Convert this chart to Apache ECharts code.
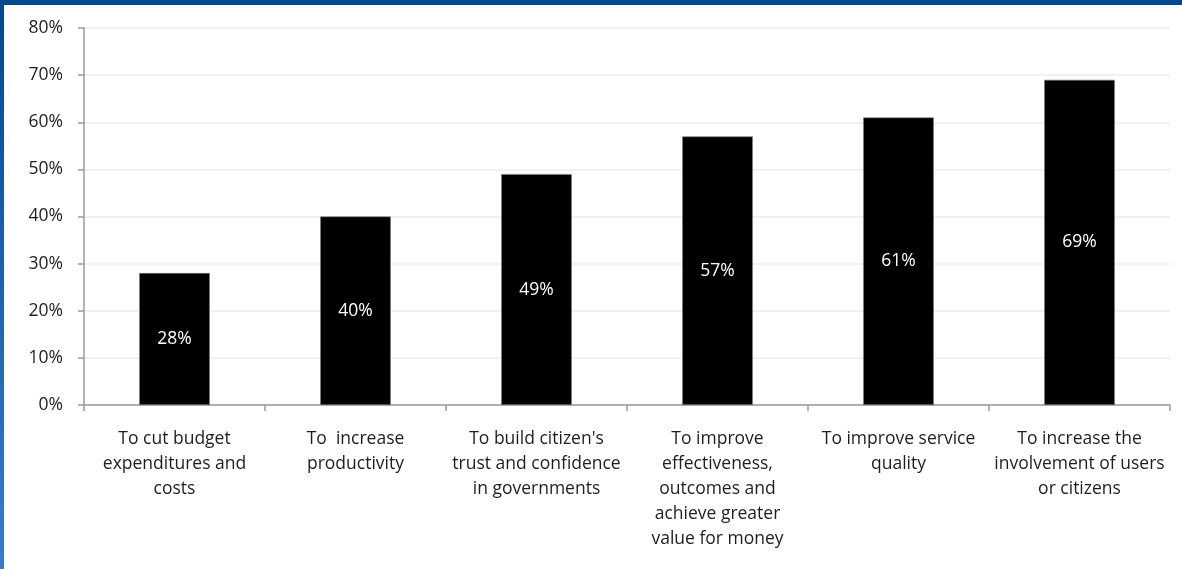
<!DOCTYPE html>
<html>
<head>
<meta charset="utf-8">
<script src="https://cdn.jsdelivr.net/npm/echarts@6/dist/echarts.min.js"></script>
<style>
  html, body { margin: 0; padding: 0; background: #ffffff; }
  #wrap { position: relative; width: 1182px; height: 569px; overflow: hidden; }
  #chart { position: absolute; left: 0; top: 0; width: 1182px; height: 569px; }
  #topbar { position: absolute; left: 0; top: 0; width: 1182px; height: 5px; background: #014a8d; }
  #leftbar { position: absolute; left: 0; top: 0; width: 4px; height: 569px;
             background: linear-gradient(#014a8d, #3b7acb); }
</style>
</head>
<body>
<div id="wrap">
  <div id="chart"></div>
  <div id="topbar"></div>
  <div id="leftbar"></div>
</div>
<script>
// Reasons for engaging users and citizens (share of respondents)
const categories = [
  "To cut budget\nexpenditures and\ncosts",
  "To  increase\nproductivity",
  "To build citizen's\ntrust and confidence\nin governments",
  "To improve\neffectiveness,\noutcomes and\nachieve greater\nvalue for money",
  "To improve service\nquality",
  "To increase the\ninvolvement of users\nor citizens"
];
const shares = [28, 40, 49, 57, 61, 69];
const yTicks = [0, 10, 20, 30, 40, 50, 60, 70, 80];

const font = "'Open Sans', 'Noto Sans', sans-serif";
const chart = echarts.init(document.getElementById('chart'), null, { renderer: 'canvas' });
chart.setOption({
  animation: false,
  backgroundColor: '#ffffff',
  grid: { left: 84, right: 12, top: 28, bottom: 164, containLabel: false },
  xAxis: {
    type: 'category',
    data: categories,
    boundaryGap: true,
    axisLine: { show: true, lineStyle: { color: '#9a9a9a', width: 1.5 } },
    axisTick: { show: true, alignWithLabel: false, length: 6, lineStyle: { color: '#9a9a9a', width: 1.5 } },
    axisLabel: {
      interval: 0, margin: 22, color: '#1e1e1e',
      fontFamily: font, fontSize: 17.5, lineHeight: 25, align: 'center'
    },
    splitLine: { show: false }
  },
  yAxis: {
    type: 'value',
    min: yTicks[0],
    max: yTicks[yTicks.length - 1],
    interval: 10,
    axisLine: { show: true, lineStyle: { color: '#9a9a9a', width: 1.5 } },
    axisTick: { show: true, inside: false, length: 6, lineStyle: { color: '#9a9a9a', width: 1.5 } },
    axisLabel: {
      margin: 21, color: '#1e1e1e', fontFamily: font, fontSize: 17.5,
      formatter: v => v + '%'
    },
    splitLine: { show: true, lineStyle: { color: '#ececec', width: 1.5 } }
  },
  series: [{
    type: 'bar',
    data: shares,
    barWidth: '39%',
    itemStyle: { color: '#000000', borderColor: '#7a7a7a', borderWidth: 0.6 },
    label: {
      show: true, position: 'inside', color: '#ffffff',
      fontFamily: font, fontSize: 17.5,
      formatter: p => p.value + '%'
    }
  }]
});
</script>
</body>
</html>
